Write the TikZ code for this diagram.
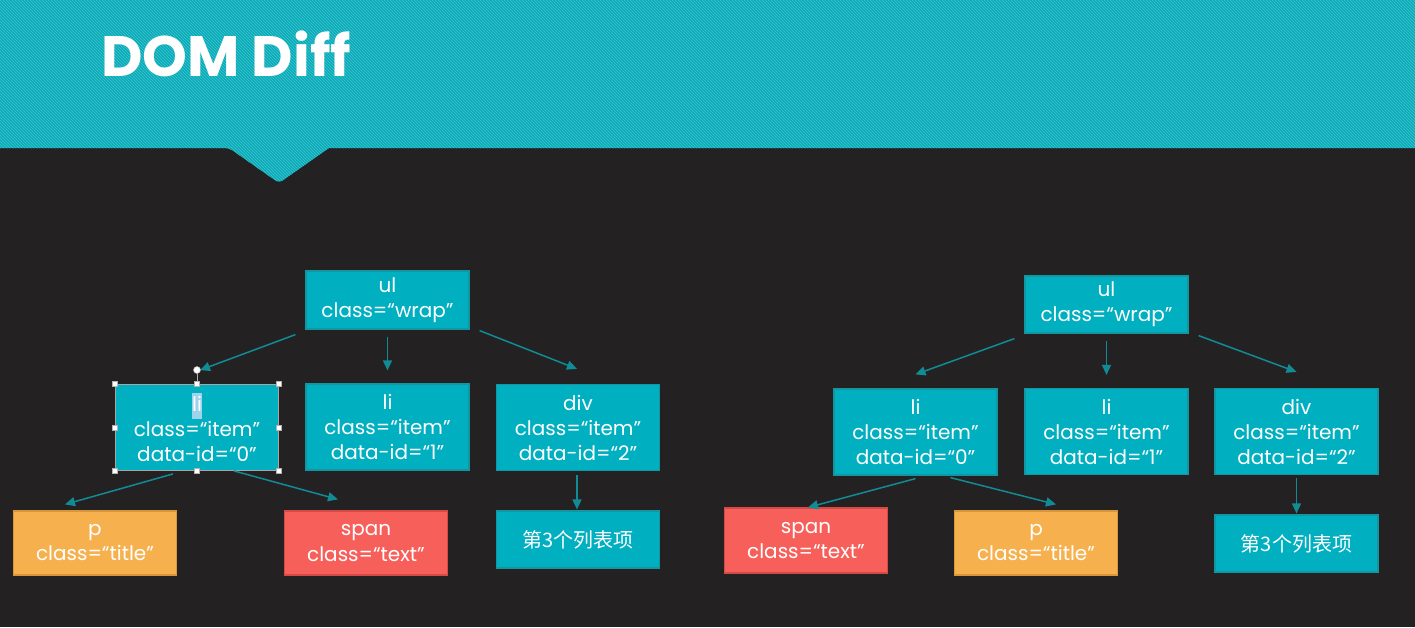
\documentclass[tikz,border=0pt]{standalone}
\usepackage{fontspec}
\setmainfont{Poppins}
\newfontfamily\cjk{Noto Sans CJK SC}
\usetikzlibrary{arrows.meta,patterns}

\definecolor{bgdark}{HTML}{242123}
\definecolor{banner}{HTML}{0AAAB7}
\definecolor{stripe}{HTML}{3FC6D0}
\definecolor{boxteal}{HTML}{00AFC0}
\definecolor{edgeteal}{HTML}{1496A2}
\definecolor{arrowteal}{HTML}{118C96}
\definecolor{boxorange}{HTML}{F6B14E}
\definecolor{edgeorange}{HTML}{D9953A}
\definecolor{boxred}{HTML}{F75F5B}
\definecolor{edgered}{HTML}{D54A47}
\definecolor{hilite}{HTML}{9DD4EC}

\begin{document}
\begin{tikzpicture}[x=1pt, y=-1pt, every node/.style={font=\fontsize{20}{25}\selectfont, text=white, align=center, inner sep=0pt}, >={Triangle[length=10pt, width=9pt]}, tag/.style={draw=edgeteal, fill=boxteal, line width=1.2pt, minimum width=163pt}, tagorange/.style={tag, draw=edgeorange, fill=boxorange}, tagred/.style={tag, draw=edgered, fill=boxred}, arr/.style={->, arrowteal, line width=1.5pt}, handle/.style={draw=gray!60, fill=white, line width=0.5pt, minimum size=5pt}]
	\useasboundingbox (0,0) rectangle (1415,627);
	\fill[bgdark] (0,0) rectangle (1415,627);
	% banner with notch
	\fill[banner] (0,0) -- (1415,0) -- (1415,148) -- (329,148) [rounded corners=4pt] -- (279,183) -- (229,148) [sharp corners] -- (0,148) -- cycle;
	\fill[pattern=north west lines, pattern color=stripe] (0,0) -- (1415,0) -- (1415,148) -- (329,148) [rounded corners=4pt] -- (279,183) -- (229,148) [sharp corners] -- (0,148) -- cycle;
	\node[font=\fontsize{57}{60}\selectfont\bfseries, anchor=base west] (title) at (101,76) {DOM Diff};

	% left tree
	\node[tag, minimum height=58pt] (ulL) at (387.5,300) {ul\\class=“wrap”};
	\node[tag, minimum height=86pt, draw=gray!70, line width=0.8pt] (liL0) at (197,427.5) {{\setlength{\fboxsep}{0.5pt}\colorbox{hilite}{\strut li}}\\class=“item”\\data-id=“0”};
	\node[tag, minimum height=86pt] (liL1) at (387.5,427) {li\\class=“item”\\data-id=“1”};
	\node[tag, minimum height=86pt] (divL) at (578,427.5) {div\\class=“item”\\data-id=“2”};
	\node[tagorange, minimum height=64pt] (pL) at (95,543) {p\\class=“title”};
	\node[tagred, minimum height=64pt] (spanL) at (366,543) {span\\class=“text”};
	\node[tag, minimum height=57pt] (txtL) at (578,539.5) {\cjk 第3个列表项};
	\draw[arr] ([shift={(-10,5)}]ulL.south west) -- ([shift={(3,-14)}]liL0.north);
	\draw[arr] ([shift={(0,7)}]ulL.south) -- ([shift={(0,-13)}]liL1.north);
	\draw[arr] ([shift={(10,1)}]ulL.south east) -- ([shift={(-1,-15)}]divL.north);
	\draw[arr] ([shift={(-24,3)}]liL0.south) -- ([shift={(-30,-6)}]pL.north);
	\draw[arr] ([shift={(37,0)}]liL0.south) -- ([shift={(-28,-11)}]spanL.north);
	\draw[arr] ([shift={(-1,4)}]divL.south) -- ([shift={(-1,-1)}]txtL.north);
	% selection handles
	\node[handle, circle, minimum size=7pt] (rot) at (197,370) {};
	\draw[gray!60, line width=0.6pt] (rot) -- (liL0.north);
	\foreach \a [count=\i] in {north west, north, north east, east, south east, south, south west, west}
		\node[handle] (h\i) at (liL0.\a) {};

	% right tree
	\node[tag, minimum height=57pt] (ulR) at (1106.5,304.5) {ul\\class=“wrap”};
	\node[tag, minimum height=86pt] (liR0) at (915.5,432) {li\\class=“item”\\data-id=“0”};
	\node[tag, minimum height=86pt] (liR1) at (1106.5,431.5) {li\\class=“item”\\data-id=“1”};
	\node[tag, minimum height=86pt] (divR) at (1296.5,431.5) {div\\class=“item”\\data-id=“2”};
	\node[tagred, minimum height=65pt] (spanR) at (806,540.5) {span\\class=“text”};
	\node[tagorange, minimum height=64pt] (pR) at (1036,543) {p\\class=“title”};
	\node[tag, minimum height=57pt] (txtR) at (1296.5,543.5) {\cjk 第3个列表项};
	\draw[arr] ([shift={(-10,5)}]ulR.south west) -- ([shift={(0,-14)}]liR0.north);
	\draw[arr] ([shift={(0,7)}]ulR.south) -- ([shift={(0,-13)}]liR1.north);
	\draw[arr] ([shift={(10,2)}]ulR.south east) -- ([shift={(0,-16)}]divR.north);
	\draw[arr] ([shift={(0,3)}]liR0.south) -- ([shift={(2,0)}]spanR.north);
	\draw[arr] ([shift={(35,2)}]liR0.south) -- ([shift={(20,-6)}]pR.north);
	\draw[arr] ([shift={(0,3)}]divR.south) -- ([shift={(0,-1)}]txtR.north);
\end{tikzpicture}
\end{document}
